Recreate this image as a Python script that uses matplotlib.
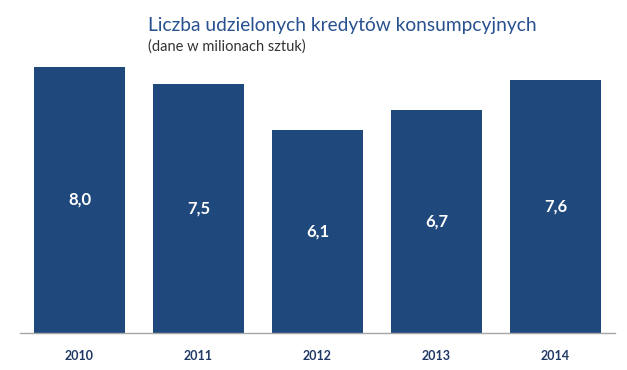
import matplotlib
matplotlib.use("Agg")
import matplotlib.pyplot as plt

years = ["2010", "2011", "2012", "2013", "2014"]
values = [8.0, 7.5, 6.1, 6.7, 7.6]
labels = ["8,0", "7,5", "6,1", "6,7", "7,6"]

title = "Liczba udzielonych kredytów konsumpcyjnych"
subtitle = "(dane w milionach sztuk)"

plt.rcParams['font.family'] = ['Lato', 'DejaVu Sans']

W, H = 627, 370
fig = plt.figure(figsize=(W / 100, H / 100), dpi=100)
bar_color = "#1F497D"

ymax = 8.5
px_per_unit = 33.25
base_y = 333
top_y = base_y - ymax * px_per_unit
ax = fig.add_axes([20 / W, (H - base_y) / H, 595 / W, (base_y - top_y) / H])

x = range(len(years))
ax.bar(x, values, width=0.76, color=bar_color, zorder=2)
for xi, v, lab in zip(x, values, labels):
    ax.text(xi, v / 2, lab, ha="center", va="center", color="white",
            fontsize=12, fontweight="bold")

ax.set_xlim(-0.5, 4.5)
ax.set_ylim(0, ymax)
ax.set_xticks(list(x))
ax.set_xticklabels(years, fontsize=9, fontweight="bold", color="#1F3864")
ax.tick_params(axis="x", length=0, pad=12)
ax.set_yticks([])
for s in ["top", "left", "right"]:
    ax.spines[s].set_visible(False)
ax.spines["bottom"].set_color("#A6A6A6")
ax.spines["bottom"].set_linewidth(1.0)

fig.text(148 / W, 1 - 25 / H, title, ha="left", va="center",
         fontsize=13.8, color="#285190")
fig.text(148 / W, 1 - 47 / H, subtitle, ha="left", va="center",
         fontsize=10.5, color="#333333")

fig.savefig("out.png", dpi=100)
